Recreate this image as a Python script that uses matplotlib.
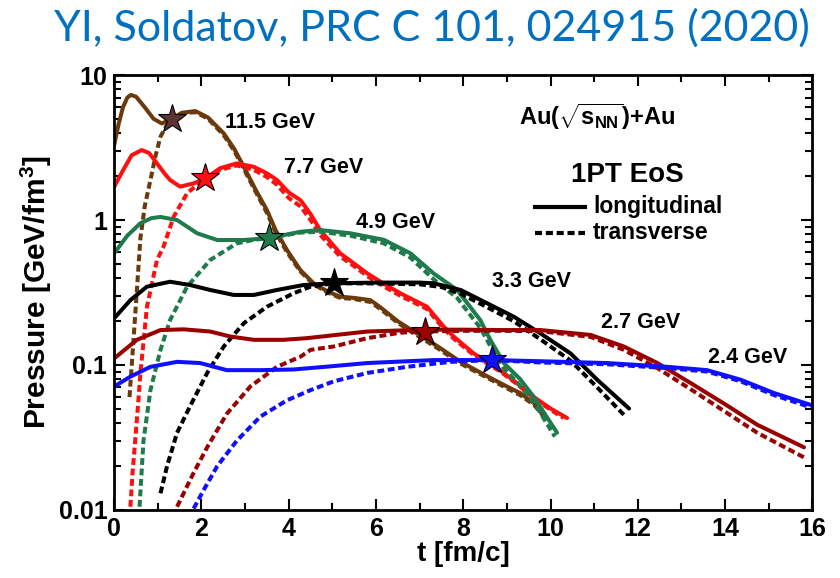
import numpy as np
import matplotlib
matplotlib.use("Agg")
import matplotlib.pyplot as plt
from matplotlib.ticker import FixedLocator, NullFormatter

plt.rcParams['font.family'] = ['Liberation Sans', 'DejaVu Sans']
plt.rcParams['mathtext.fontset'] = 'custom'
plt.rcParams['mathtext.rm'] = 'Liberation Sans:bold'
plt.rcParams['mathtext.bf'] = 'Liberation Sans:bold'

# ------------------------------
# data (t in fm/c, P in GeV/fm^3)
# 11.5 GeV
t115_l = [0.0, 0.1, 0.2, 0.3, 0.38, 0.5, 0.7, 0.9, 1.09, 1.32, 1.55, 1.86, 2.15, 2.51, 2.75, 2.97,
          3.25, 3.5, 3.7, 3.96, 4.27, 4.57, 4.9, 5.18, 5.5, 5.87, 6.1, 6.5, 6.87, 7.4, 7.94, 8.5,
          9.0, 9.3, 9.62, 9.85]
p115_l = [3.3, 4.6, 6.0, 7.0, 7.3, 7.1, 6.0, 5.0, 4.64, 5.0, 5.5, 5.65, 5.1, 3.96, 3.1, 2.33,
          1.6, 1.17, 0.85, 0.62, 0.45, 0.366, 0.32, 0.296, 0.29, 0.28, 0.25, 0.20, 0.17, 0.135, 0.105, 0.085,
          0.071, 0.064, 0.0545, 0.045]
t115_t = [0.35, 0.42, 0.5, 0.6, 0.7, 0.83, 0.95, 1.06, 1.2, 1.32, 1.55, 1.86, 2.15, 2.51, 2.75, 2.97,
          3.25, 3.5, 3.7, 3.96, 4.27, 4.57, 4.9, 5.18, 5.5, 5.87, 6.1, 6.5, 6.87, 7.4, 7.94, 8.5,
          9.0, 9.3, 9.62, 9.85]
p115_t = [0.06, 0.12, 0.27, 0.75, 1.25, 1.89, 2.8, 3.76, 4.5, 5.0, 5.45, 5.55, 5.0, 3.85, 3.0, 2.25,
          1.55, 1.12, 0.82, 0.6, 0.44, 0.36, 0.315, 0.29, 0.285, 0.272, 0.243, 0.195, 0.165, 0.131, 0.102, 0.083,
          0.069, 0.062, 0.053, 0.044]
# 7.7 GeV
t77_l = [0.0, 0.2, 0.4, 0.63, 0.8, 0.98, 1.15, 1.28, 1.51, 1.82, 2.09, 2.43, 2.81, 3.2, 3.5, 3.73,
         4.0, 4.27, 4.5, 4.72, 5.18, 5.5, 5.8, 6.2, 6.56, 7.17, 7.55, 7.78, 8.24, 8.85, 9.2, 9.62,
         10.0, 10.38]
p77_l = [1.70, 2.2, 2.8, 3.04, 2.9, 2.46, 2.1, 1.89, 1.70, 1.79, 1.94, 2.28, 2.46, 2.33, 2.1, 1.89,
         1.55, 1.37, 1.1, 0.853, 0.589, 0.5, 0.428, 0.36, 0.312, 0.252, 0.184, 0.157, 0.120, 0.092, 0.076, 0.060,
         0.050, 0.043]
t77_t = [0.37, 0.42, 0.48, 0.55, 0.6, 0.75, 0.98, 1.13, 1.36, 1.67, 1.9, 2.09, 2.43, 2.81, 3.2, 3.5,
         3.73, 4.0, 4.27, 4.5, 4.72, 5.18, 5.5, 5.8, 6.2, 6.56, 7.17, 7.55, 7.78, 8.24, 8.85, 9.2,
         9.62, 10.0, 10.3]
p77_t = [0.0105, 0.018, 0.030, 0.055, 0.088, 0.252, 0.53, 0.655, 1.05, 1.53, 1.75, 1.94, 2.22, 2.38, 2.22, 1.98,
         1.75, 1.42, 1.24, 1.0, 0.79, 0.56, 0.48, 0.41, 0.345, 0.30, 0.243, 0.178, 0.152, 0.117, 0.09, 0.075,
         0.059, 0.049, 0.043]
# 4.9 GeV
t49_l = [0.0, 0.3, 0.6, 0.85, 1.06, 1.44, 1.9, 2.36, 2.97, 3.54, 4.0, 4.27, 4.72, 5.41, 6.18, 6.79,
         7.32, 7.86, 8.39, 8.62, 8.93, 9.3, 9.62, 10.15]
p49_l = [0.59, 0.78, 0.95, 1.03, 1.05, 1.0, 0.81, 0.728, 0.728, 0.75, 0.8, 0.83, 0.853, 0.81, 0.73, 0.589,
         0.428, 0.329, 0.204, 0.149, 0.103, 0.08, 0.060, 0.034]
t49_t = [0.58, 0.67, 0.83, 1.06, 1.28, 1.67, 2.2, 2.81, 3.2, 3.54, 4.27, 4.72, 5.41, 6.18, 6.79, 7.32,
         7.86, 8.39, 8.62, 8.93, 9.3, 9.62, 10.1]
p49_t = [0.0105, 0.030, 0.067, 0.127, 0.204, 0.347, 0.53, 0.69, 0.73, 0.75, 0.82, 0.83, 0.78, 0.69, 0.55, 0.39,
         0.29, 0.18, 0.135, 0.095, 0.072, 0.055, 0.032]
# 3.3 GeV
t33_l = [0.0, 0.37, 0.75, 1.28, 1.74, 2.2, 2.74, 3.2, 3.73, 4.34, 5.03, 6.0, 7.0, 7.32, 7.94, 8.55,
         9.16, 9.77, 10.46, 11.07, 11.8]
p33_l = [0.21, 0.28, 0.347, 0.375, 0.356, 0.329, 0.304, 0.304, 0.329, 0.356, 0.366, 0.37, 0.37, 0.366, 0.329, 0.266,
         0.215, 0.165, 0.12, 0.079, 0.050]
t33_t = [1.06, 1.21, 1.44, 1.74, 2.13, 2.51, 2.97, 3.5, 4.11, 4.5, 5.03, 6.0, 7.0, 7.5, 7.94, 8.55,
         9.16, 9.77, 10.46, 11.07, 11.72]
p33_t = [0.013, 0.020, 0.034, 0.052, 0.088, 0.134, 0.194, 0.252, 0.312, 0.347, 0.366, 0.365, 0.36, 0.345, 0.31, 0.25,
         0.20, 0.15, 0.107, 0.07, 0.044]
# 2.7 GeV
t27_l = [0.0, 0.52, 1.06, 1.59, 2.2, 2.66, 3.2, 3.88, 4.42, 5.0, 5.8, 7.09, 8.0, 8.85, 9.77, 10.92,
         11.68, 12.45, 13.21, 13.98, 14.74, 15.81]
p27_l = [0.111, 0.149, 0.174, 0.176, 0.17, 0.157, 0.149, 0.149, 0.153, 0.16, 0.17, 0.175, 0.175, 0.174, 0.174, 0.161,
         0.134, 0.103, 0.075, 0.054, 0.0386, 0.027]
t27_t = [1.44, 1.82, 2.13, 2.58, 3.12, 3.73, 4.27, 4.5, 5.03, 5.8, 6.56, 7.13, 8.0, 8.85, 9.77, 10.92,
         11.68, 12.45, 13.21, 13.98, 14.74, 15.81]
p27_t = [0.0105, 0.018, 0.027, 0.046, 0.071, 0.097, 0.114, 0.127, 0.134, 0.153, 0.167, 0.17, 0.172, 0.172, 0.171, 0.156,
         0.127, 0.095, 0.068, 0.048, 0.034, 0.023]
# 2.4 GeV
t24_l = [0.0, 0.37, 0.83, 1.44, 1.97, 2.58, 3.35, 4.11, 5.0, 5.8, 7.32, 8.66, 9.77, 11.3, 12.68, 13.59,
         14.36, 15.12, 15.96]
p24_l = [0.071, 0.083, 0.097, 0.105, 0.103, 0.092, 0.092, 0.093, 0.098, 0.103, 0.108, 0.108, 0.106, 0.103, 0.097, 0.092,
         0.079, 0.064, 0.053]
t24_t = [1.82, 2.05, 2.36, 2.81, 3.35, 3.96, 4.5, 5.03, 5.8, 6.71, 7.71, 8.66, 9.77, 11.3, 12.68, 13.59,
         14.36, 15.12, 15.96]
p24_t = [0.0102, 0.0137, 0.020, 0.030, 0.044, 0.057, 0.067, 0.077, 0.088, 0.097, 0.105, 0.108, 0.104, 0.101, 0.095, 0.09,
         0.077, 0.062, 0.051]

energies = ['11.5 GeV', '7.7 GeV', '4.9 GeV', '3.3 GeV', '2.7 GeV', '2.4 GeV']
colors = ['#6b3a0c', '#ff1010', '#1f7a4c', '#000000', '#990000', '#1010ff']
star_colors = ['#5c3434', '#ff1010', '#1f7a4c', '#000000', '#990000', '#1010ff']
star_t = [1.32, 2.09, 3.54, 5.03, 7.13, 8.66]
star_p = [5.0, 1.94, 0.75, 0.366, 0.17, 0.108]
label_t = [2.55, 3.88, 5.53, 8.67, 11.15, 13.62]
label_p = [4.74, 2.29, 0.968, 0.379, 0.195, 0.112]

long_t = [t115_l, t77_l, t49_l, t33_l, t27_l, t24_l]
long_p = [p115_l, p77_l, p49_l, p33_l, p27_l, p24_l]
tran_t = [t115_t, t77_t, t49_t, t33_t, t27_t, t24_t]
tran_p = [p115_t, p77_t, p49_t, p33_t, p27_t, p24_t]
# ----------------------------------------

fig = plt.figure(figsize=(8.4, 5.78), dpi=100)
ax = fig.add_axes([0.136, 0.118, 0.831, 0.752])

for i in range(len(energies)):
    ax.plot(long_t[i], long_p[i], '-', color=colors[i], lw=2.9, solid_capstyle='round')
    ax.plot(tran_t[i], tran_p[i], '--', color=colors[i], lw=2.9, dashes=(1.7, 0.9))
for i in range(len(energies)):
    ax.plot(star_t[i], star_p[i], '*', ms=21, mfc=star_colors[i], mec='black', mew=0.8, zorder=5)
    ax.text(label_t[i], label_p[i], energies[i], fontsize=15.5, fontweight='bold', va='center', ha='left')

ax.set_yscale('log')
ax.set_xlim(0, 16)
ax.set_ylim(0.01, 10)
ax.xaxis.set_major_locator(FixedLocator(np.arange(0, 17, 2)))
ax.xaxis.set_minor_locator(FixedLocator(np.arange(1, 16, 2)))
ax.set_yticks([0.01, 0.1, 1, 10])
ax.set_yticklabels(['0.01', '0.1', '1', '10'])
ax.yaxis.set_minor_formatter(NullFormatter())
ax.tick_params(which='both', direction='in', top=True, right=True, width=1.5)
ax.tick_params(which='major', length=8, labelsize=18, pad=5)
ax.tick_params(which='minor', length=5)
for lab in ax.get_xticklabels() + ax.get_yticklabels():
    lab.set_fontweight('bold')
for s in ax.spines.values():
    s.set_linewidth(2)

ax.set_xlabel('t [fm/c]', fontsize=20, fontweight='bold', labelpad=0)
ax.set_ylabel('Pressure [GeV/fm$^\\mathbf{3}$]', fontsize=21.5, fontweight='bold', labelpad=3)

# legend-style annotations
ax.text(0.692, 0.903, r'Au($\sqrt{\mathrm{s}_{\mathrm{NN}}}$)+Au', transform=ax.transAxes,
        fontsize=17, fontweight='bold', ha='center', va='center')
ax.text(0.735, 0.77, '1PT EoS', transform=ax.transAxes, fontsize=20, fontweight='bold', ha='center', va='center')
ax.plot([0.603, 0.674], [0.696, 0.696], '-', color='black', lw=3, transform=ax.transAxes)
ax.plot([0.603, 0.674], [0.637, 0.637], '--', color='black', lw=3, dashes=(1.7, 0.9), transform=ax.transAxes)
ax.text(0.686, 0.698, 'longitudinal', transform=ax.transAxes, fontsize=16.5, fontweight='bold', va='center')
ax.text(0.686, 0.639, 'transverse', transform=ax.transAxes, fontsize=16.5, fontweight='bold', va='center')

fig.text(0.964, 0.952, 'YI, Soldatov, PRC C 101, 024915 (2020)', color='#0070c0', fontsize=31,
         family=['Lato', 'DejaVu Sans'], ha='right', va='center')

fig.savefig('out.png', dpi=100)
